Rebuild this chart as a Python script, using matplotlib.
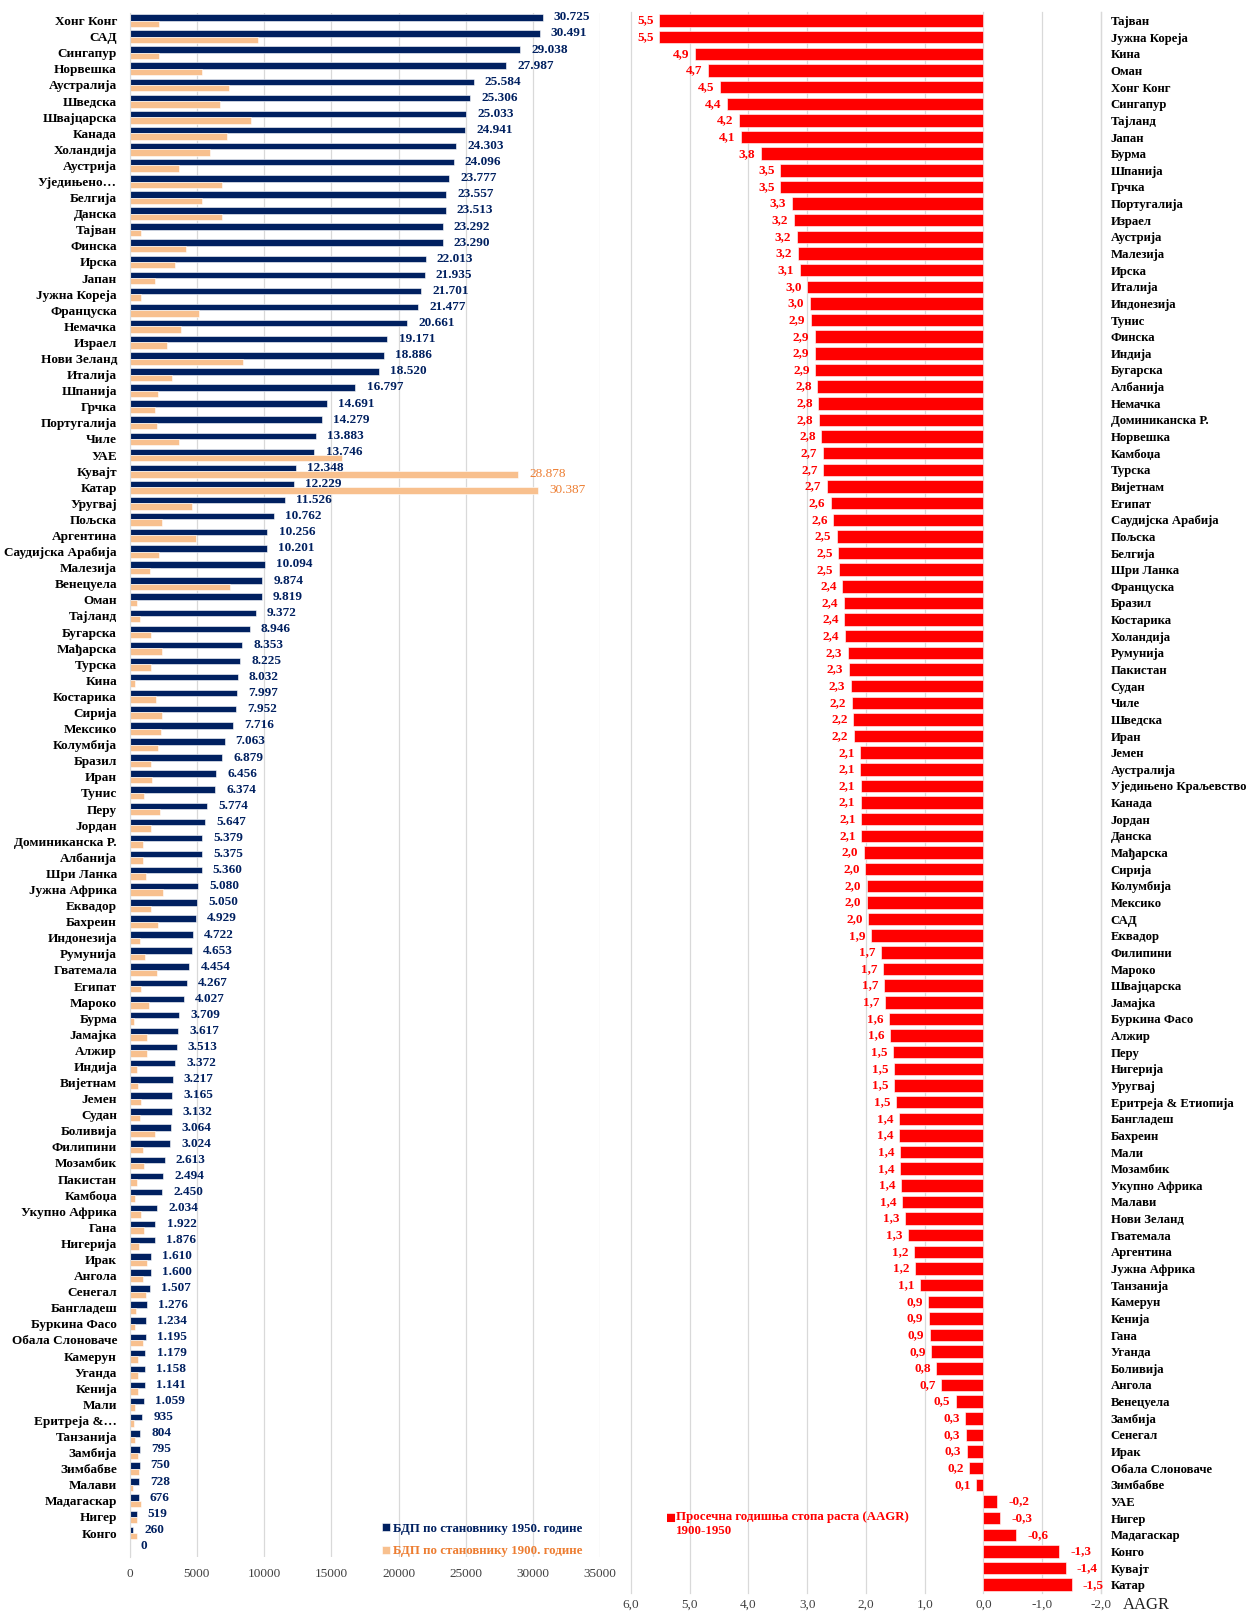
import matplotlib
matplotlib.use('Agg')
import matplotlib.pyplot as plt
import numpy as np

plt.rcParams['font.family'] = ['Liberation Serif', 'DejaVu Serif']

# left panel: GDP per capita
countries = ['Хонг Конг', 'САД', 'Сингапур', 'Норвешка', 'Аустралија', 'Шведска',
             'Швајцарска', 'Канада', 'Холандија', 'Аустрија', 'Уједињено…', 'Белгија',
             'Данска', 'Тајван', 'Финска', 'Ирска', 'Јапан', 'Јужна Кореја', 'Француска',
             'Немачка', 'Израел', 'Нови Зеланд', 'Италија', 'Шпанија', 'Грчка',
             'Португалија', 'Чиле', 'УАЕ', 'Кувајт', 'Катар', 'Уругвај', 'Пољска',
             'Аргентина', 'Саудијска Арабија', 'Малезија', 'Венецуела', 'Оман', 'Тајланд',
             'Бугарска', 'Мађарска', 'Турска', 'Кина', 'Костарика', 'Сирија', 'Мексико',
             'Колумбија', 'Бразил', 'Иран', 'Тунис', 'Перу', 'Јордан', 'Доминиканска Р.',
             'Албанија', 'Шри Ланка', 'Јужна Африка', 'Еквадор', 'Бахреин', 'Индонезија',
             'Румунија', 'Гватемала', 'Египат', 'Мароко', 'Бурма', 'Јамајка', 'Алжир',
             'Индија', 'Вијетнам', 'Јемен', 'Судан', 'Боливија', 'Филипини', 'Мозамбик',
             'Пакистан', 'Камбоџа', 'Укупно Африка', 'Гана', 'Нигерија', 'Ирак', 'Ангола',
             'Сенегал', 'Бангладеш', 'Буркина Фасо', 'Обала Слоноваче', 'Камерун', 'Уганда',
             'Кенија', 'Мали', 'Еритреја &…', 'Танзанија', 'Замбија', 'Зимбабве', 'Малави',
             'Мадагаскар', 'Нигер', 'Конго', '']
gdp_1950 = [30725, 30491, 29038, 27987, 25584, 25306, 25033, 24941, 24303, 24096,
            23777, 23557, 23513, 23292, 23290, 22013, 21935, 21701, 21477, 20661,
            19171, 18886, 18520, 16797, 14691, 14279, 13883, 13746, 12348, 12229,
            11526, 10762, 10256, 10201, 10094, 9874, 9819, 9372, 8946, 8353,
            8225, 8032, 7997, 7952, 7716, 7063, 6879, 6456, 6374, 5774,
            5647, 5379, 5375, 5360, 5080, 5050, 4929, 4722, 4653, 4454,
            4267, 4027, 3709, 3617, 3513, 3372, 3217, 3165, 3132, 3064,
            3024, 2613, 2494, 2450, 2034, 1922, 1876, 1610, 1600, 1507,
            1276, 1234, 1195, 1179, 1158, 1141, 1059, 935, 804, 795,
            750, 728, 676, 519, 260, 0]
gdp_1900 = [2180, 9530, 2180, 5380, 7380, 6700, 9020, 7260, 5970, 3680,
            6910, 5410, 6910, 880, 4200, 3410, 1880, 820, 5150, 3850,
            2760, 8440, 3150, 2150, 1880, 2060, 3650, 15760, 28878, 30387,
            4650, 2410, 4970, 2180, 1500, 7440, 560, 770, 1620, 2440,
            1590, 380, 1940, 2380, 2320, 2120, 1620, 1680, 1060, 2260,
            1620, 1000, 970, 1200, 2470, 1590, 2090, 770, 1150, 2060,
            850, 1410, 350, 1290, 1320, 560, 620, 850, 770, 1880,
            1030, 1090, 590, 440, 850, 1060, 700, 1320, 1000, 1200,
            500, 440, 1000, 650, 650, 620, 410, 350, 380, 620,
            680, 290, 880, 560, 530, 0]

# right panel: AAGR 1900-1950
growth_countries = ['Тајван', 'Јужна Кореја', 'Кина', 'Оман', 'Хонг Конг', 'Сингапур',
                    'Тајланд', 'Јапан', 'Бурма', 'Шпанија', 'Грчка', 'Португалија',
                    'Израел', 'Аустрија', 'Малезија', 'Ирска', 'Италија', 'Индонезија',
                    'Тунис', 'Финска', 'Индија', 'Бугарска', 'Албанија', 'Немачка',
                    'Доминиканска Р.', 'Норвешка', 'Камбоџа', 'Турска', 'Вијетнам',
                    'Египат', 'Саудијска Арабија', 'Пољска', 'Белгија', 'Шри Ланка',
                    'Француска', 'Бразил', 'Костарика', 'Холандија', 'Румунија',
                    'Пакистан', 'Судан', 'Чиле', 'Шведска', 'Иран', 'Јемен',
                    'Аустралија', 'Уједињено Краљевство', 'Канада', 'Јордан', 'Данска',
                    'Мађарска', 'Сирија', 'Колумбија', 'Мексико', 'САД', 'Еквадор',
                    'Филипини', 'Мароко', 'Швајцарска', 'Јамајка', 'Буркина Фасо',
                    'Алжир', 'Перу', 'Нигерија', 'Уругвај', 'Еритреја & Етиопија',
                    'Бангладеш', 'Бахреин', 'Мали', 'Мозамбик', 'Укупно Африка',
                    'Малави', 'Нови Зеланд', 'Гватемала', 'Аргентина', 'Јужна Африка',
                    'Танзанија', 'Камерун', 'Кенија', 'Гана', 'Уганда', 'Боливија',
                    'Ангола', 'Венецуела', 'Замбија', 'Сенегал', 'Ирак',
                    'Обала Слоноваче', 'Зимбабве', 'УАЕ', 'Нигер', 'Мадагаскар',
                    'Конго', 'Кувајт', 'Катар']
aagr = [5.52, 5.52, 4.91, 4.69, 4.48, 4.37, 4.16, 4.13, 3.79, 3.46,
        3.46, 3.26, 3.23, 3.18, 3.16, 3.13, 3.00, 2.96, 2.94, 2.87,
        2.87, 2.86, 2.83, 2.81, 2.80, 2.76, 2.74, 2.73, 2.67, 2.60,
        2.56, 2.50, 2.47, 2.46, 2.40, 2.38, 2.37, 2.36, 2.31, 2.29,
        2.26, 2.24, 2.22, 2.21, 2.10, 2.10, 2.09, 2.09, 2.08, 2.08,
        2.04, 2.01, 1.99, 1.99, 1.96, 1.92, 1.74, 1.71, 1.70, 1.68,
        1.61, 1.59, 1.54, 1.53, 1.52, 1.49, 1.44, 1.43, 1.42, 1.42,
        1.40, 1.38, 1.34, 1.28, 1.19, 1.17, 1.08, 0.94, 0.93, 0.91,
        0.89, 0.80, 0.72, 0.47, 0.31, 0.30, 0.28, 0.24, 0.12, -0.23,
        -0.28, -0.56, -1.29, -1.40, -1.50]

navy = '#002060'
peach = '#F8C08E'
orange_txt = '#ED7D31'
red = '#FF0000'
grid_c = '#D9D9D9'

fig = plt.figure(figsize=(12.48, 16.12), dpi=100)

# ---------- left ----------
ax1 = fig.add_axes([0.1038, 0.034, 0.3772, 0.9582])
y = np.arange(len(countries))
b1 = ax1.barh(y - 0.2, gdp_1950, height=0.4, color=navy, edgecolor='white', linewidth=0.4,
              label='БДП по становнику 1950. године')
b2 = ax1.barh(y + 0.2, gdp_1900, height=0.4, color=peach, edgecolor='white', linewidth=0.4,
              label='БДП по становнику 1900. године')
ax1.set_xlim(0, 35000)
ax1.set_ylim(len(countries) - 0.5, -0.5)
ax1.set_xticks(range(0, 35001, 5000))
ax1.set_yticks(y)
ax1.set_yticklabels(countries, fontsize=9.5, fontweight='bold')
ax1.tick_params(axis='y', length=0, pad=9)
ax1.tick_params(axis='x', length=0, pad=8, labelsize=9.5, labelcolor='#404040')
ax1.xaxis.grid(True, color=grid_c, linewidth=0.9)
ax1.set_axisbelow(True)
for s in ['top', 'right', 'bottom']:
    ax1.spines[s].set_visible(False)
ax1.spines['left'].set_color(grid_c)

for yi, v in zip(y, gdp_1950):
    txt = f'{v:,}'.replace(',', '.')
    ax1.annotate(txt, (v, yi - 0.2), xytext=(8, 0), textcoords='offset points',
                 va='center', ha='left', fontsize=9.5, fontweight='bold', color=navy)
for yi, v in zip(y, gdp_1900):
    if v > 25000:
        ax1.annotate(f'{v:,}'.replace(',', '.'), (v, yi + 0.2), xytext=(8, 0),
                     textcoords='offset points', va='center', ha='left',
                     fontsize=9.5, color=orange_txt)

leg1 = ax1.legend(handles=[b1, b2], loc='upper left', bbox_to_anchor=(0.297, 0.0625),
                  bbox_transform=fig.transFigure, frameon=False,
                  prop={'weight': 'bold', 'size': 9.3}, labelcolor=[navy, orange_txt],
                  handlelength=0.6, handleheight=0.6, handletextpad=0.25, labelspacing=0.8)

# ---------- right ----------
ax2 = fig.add_axes([0.5056, 0.0118, 0.3766, 0.9806])
y2 = np.arange(len(growth_countries))
ax2.barh(y2, aagr, height=0.75, color=red, edgecolor='white', linewidth=0.4)
ax2.set_xlim(6, -2)
ax2.set_ylim(len(growth_countries) - 0.5, -0.5)
ticks2 = np.arange(6, -2.01, -1)
ax2.set_xticks(ticks2)
ax2.set_xticklabels([f'{t:.1f}'.replace('.', ',') for t in ticks2])
ax2.yaxis.tick_right()
ax2.set_yticks(y2)
ax2.set_yticklabels(growth_countries, fontsize=9.2, fontweight='bold')
ax2.tick_params(axis='y', length=0, pad=7)
ax2.tick_params(axis='x', length=0, pad=4, labelsize=9.5, labelcolor='#404040')
ax2.xaxis.grid(True, color=grid_c, linewidth=0.9, clip_on=False)
ax2.set_axisbelow(True)
for s in ['top', 'left', 'bottom']:
    ax2.spines[s].set_visible(False)
ax2.spines['right'].set_color(grid_c)
ax2.spines['right'].set_linewidth(0.9)

for yi, v in zip(y2, aagr):
    txt = f'{v:.1f}'.replace('.', ',')
    if v >= 0:
        ax2.annotate(txt, (v, yi), xytext=(-4, 0), textcoords='offset points',
                     va='center', ha='right', fontsize=9.5, fontweight='bold', color=red)
    else:
        ax2.annotate(txt, (v, yi), xytext=(8, 0), textcoords='offset points',
                     va='center', ha='left', fontsize=9.5, fontweight='bold', color=red)

fig.text(0.5335, 0.0578, '■', color=red, fontsize=12, va='center', ha='left')
fig.text(0.5415, 0.0625, 'Просечна годишња стопа раста (AAGR)\n1900-1950', color=red,
         fontsize=9.3, fontweight='bold', va='top', ha='left', linespacing=1.2)
fig.text(0.9, 0.0045, 'AAGR', fontsize=12, va='center', ha='left', color='#202020')

fig.savefig('out.png', dpi=100)
